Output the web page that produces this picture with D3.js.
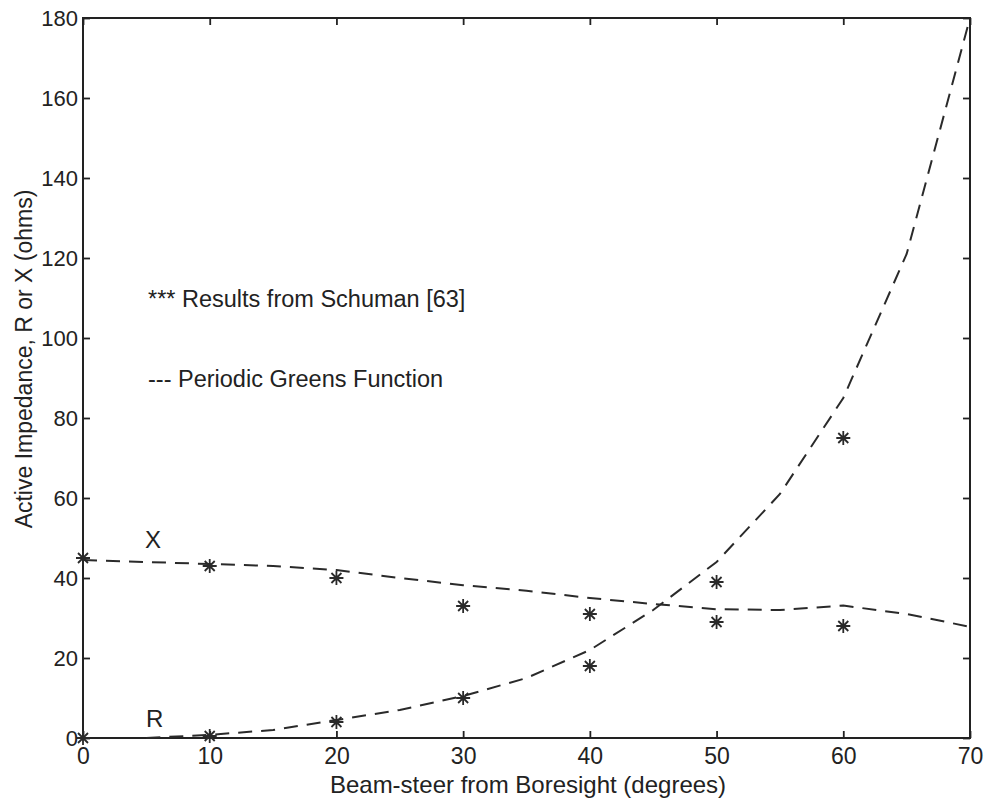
<!DOCTYPE html>
<html>
<head>
<meta charset="utf-8">
<script src="https://cdn.jsdelivr.net/npm/d3@7"></script>
<style>
  body { margin: 0; background: #fff; }
  svg text { font-family: "Liberation Sans", Arial, sans-serif; fill: #222; }
</style>
</head>
<body>
<div id="chart"></div>
<script>
// Schuman measured points (asterisks)
const degPts = [0, 10, 20, 30, 40, 50, 60];
const schumanR = [0, 0.5, 4, 10, 18, 39, 75];
const schumanX = [45, 43, 40, 33, 31, 29, 28];

// Periodic Greens Function curves (dashed)
const degCurve = [0, 5, 10, 15, 20, 25, 30, 35, 40, 45, 50, 55, 60, 65, 70];
const greensR = [null, 0, 0.8, 2, 4.5, 7, 10.5, 15, 22, 32, 44, 61, 85, 121, 180];
const greensX = [44.5, 44, 43.5, 43, 42, 40, 38.2, 36.8, 35, 33.5, 32.2, 32, 33.1, 31, 27.8];

const xTicks = [0, 10, 20, 30, 40, 50, 60, 70];
const yTicks = [0, 20, 40, 60, 80, 100, 120, 140, 160, 180];

const w = 985, h = 800;
const padL = 83, padR = 970, padT = 18, padB = 738;

const svg = d3.select("#chart").append("svg")
  .attr("width", w).attr("height", h);

const x = d3.scaleLinear().domain([0, 70]).range([padL, padR]);
const y = d3.scaleLinear().domain([0, 180]).range([padB, padT]);

// frame
svg.append("rect")
  .attr("x", padL).attr("y", padT)
  .attr("width", padR - padL).attr("height", padB - padT)
  .attr("fill", "none").attr("stroke", "#222").attr("stroke-width", 2);

// axes, ticks inward
const gx = svg.append("g")
  .attr("transform", "translate(0," + padB + ")")
  .call(d3.axisBottom(x).tickValues(xTicks).tickSize(-7).tickPadding(10));
const gy = svg.append("g")
  .attr("transform", "translate(" + padL + ",0)")
  .call(d3.axisLeft(y).tickValues(yTicks).tickSize(-7).tickPadding(5));
svg.append("g")
  .attr("transform", "translate(0," + padT + ")")
  .call(d3.axisTop(x).tickValues(xTicks).tickSize(-7).tickFormat(""));
svg.append("g")
  .attr("transform", "translate(" + padR + ",0)")
  .call(d3.axisRight(y).tickValues(yTicks).tickSize(-7).tickFormat(""));

svg.selectAll(".domain").remove();
svg.selectAll(".tick line").attr("stroke", "#222").attr("stroke-width", 1.8);
svg.selectAll(".tick text")
  .style("font-family", "'Liberation Sans', Arial, sans-serif")
  .attr("fill", "#222");
gx.selectAll(".tick text").style("font-size", "23px");
gy.selectAll(".tick text").style("font-size", "22px");

// dashed curves
const line = d3.line()
  .defined(d => d[1] !== null)
  .x(d => x(d[0])).y(d => y(d[1]));

[greensR, greensX].forEach(vals => {
  svg.append("path")
    .datum(degCurve.map((d, i) => [d, vals[i]]))
    .attr("d", line)
    .attr("fill", "none")
    .attr("stroke", "#2a2a2a")
    .attr("stroke-width", 2)
    .attr("stroke-dasharray", "14,9");
});

// asterisk markers
const star = "M-7,0L7,0M0,-7L0,7M-5,-5L5,5M-5,5L5,-5";
[schumanR, schumanX].forEach(vals => {
  svg.append("g").selectAll("path")
    .data(degPts.map((d, i) => [d, vals[i]]))
    .enter()
    .append("path")
    .attr("transform", d => "translate(" + x(d[0]) + "," + y(d[1]) + ")")
    .attr("d", star)
    .attr("stroke", "#2a2a2a")
    .attr("stroke-width", 1.8)
    .attr("fill", "none");
});

// labels
svg.append("text").attr("x", 145).attr("y", 548).style("font-size", "24px").text("X");
svg.append("text").attr("x", 146).attr("y", 727).style("font-size", "24px").text("R");
svg.append("text").attr("x", 148).attr("y", 307).style("font-size", "23.5px")
  .text("*** Results from Schuman [63]");
svg.append("text").attr("x", 148).attr("y", 387).style("font-size", "23.5px")
  .text("--- Periodic Greens Function");

svg.append("text")
  .attr("x", 528).attr("y", 793)
  .attr("text-anchor", "middle")
  .style("font-size", "24px")
  .text("Beam-steer from Boresight (degrees)");

svg.append("text")
  .attr("transform", "translate(32,359) rotate(-90)")
  .attr("text-anchor", "middle")
  .style("font-size", "23px")
  .text("Active Impedance, R or X (ohms)");
</script>
</body>
</html>
